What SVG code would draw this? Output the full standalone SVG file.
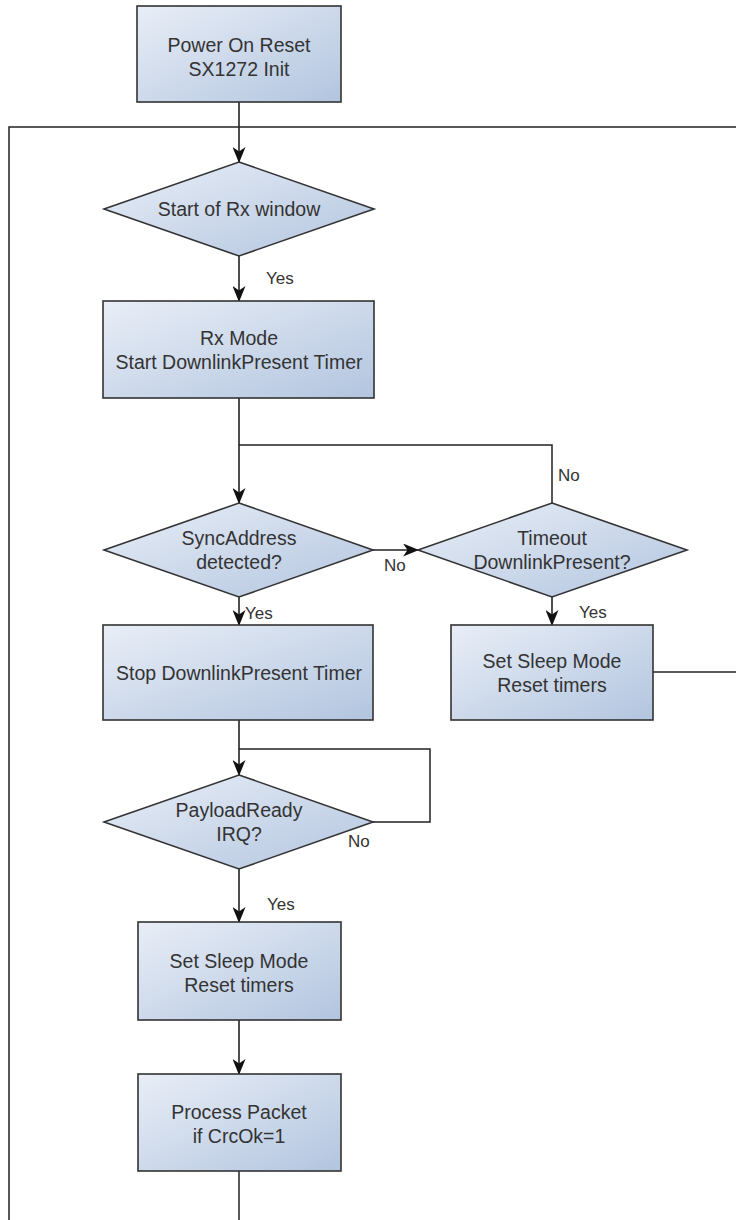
<svg xmlns="http://www.w3.org/2000/svg" width="736" height="1220" viewBox="0 0 736 1220">
<defs>
<linearGradient id="g" x1="0" y1="0" x2="1" y2="1">
<stop offset="0" stop-color="#e9eef7"/>
<stop offset="1" stop-color="#b2c5df"/>
</linearGradient>
<marker id="arr" viewBox="0 0 16 13" refX="15" refY="6.5" markerWidth="16" markerHeight="13" markerUnits="userSpaceOnUse" orient="auto">
<path d="M0,0 L16,6.5 L0,13 L4.5,6.5 z" fill="#111"/>
</marker>
<style>
.n{fill:url(#g);stroke:#333;stroke-width:1.6}
.t{font-family:"Liberation Sans",Arial,sans-serif;font-size:19.5px;fill:#333;text-anchor:middle}
.l{font-family:"Liberation Sans",Arial,sans-serif;font-size:17px;fill:#333}
.c{fill:none;stroke:#222;stroke-width:1.5}
.a{fill:none;stroke:#222;stroke-width:1.6;marker-end:url(#arr)}
</style>
</defs>
<rect width="736" height="1220" fill="#fff"/>
<g id="connectors">
<path class="c" d="M9,1220 V127 H736" stroke-width="1.3"/>
<path class="a" d="M239,102 V162"/>
<path class="a" d="M239,256 V301"/>
<path class="a" d="M239,398 V503"/>
<path class="c" d="M552,503 V445 H239"/>
<path class="a" d="M373,550 H418"/>
<path class="a" d="M239,597 V625"/>
<path class="a" d="M552,597 V625"/>
<path class="c" d="M653,672 H736" stroke="#555" stroke-width="1.2"/>
<path class="a" d="M239,720 V775"/>
<path class="c" d="M373,822 H430 V749 H239"/>
<path class="a" d="M239,869 V922"/>
<path class="a" d="M239,1020 V1074"/>
<path class="c" d="M239,1171 V1220"/>
<text class="l" x="266" y="284">Yes</text>
<text class="l" x="558" y="481">No</text>
<text class="l" x="384" y="571">No</text>
<text class="l" x="245" y="619">Yes</text>
<text class="l" x="579" y="618">Yes</text>
<text class="l" x="348" y="847">No</text>
<text class="l" x="267" y="910">Yes</text>
</g>
<g id="n_power">
<rect class="n" x="137" y="6" width="204" height="96"/>
<text class="t" x="239" y="51.5">Power On Reset</text>
<text class="t" x="239" y="76">SX1272 Init</text>
</g>
<g id="n_start">
<polygon class="n" points="239,162 374,209 239,256 104,209"/>
<text class="t" x="239" y="216">Start of Rx window</text>
</g>
<g id="n_rx">
<rect class="n" x="103" y="301" width="271" height="97"/>
<text class="t" x="239" y="344.5">Rx Mode</text>
<text class="t" x="239" y="369">Start DownlinkPresent Timer</text>
</g>
<g id="n_sync">
<polygon class="n" points="239,503 373,550 239,597 104,550"/>
<text class="t" x="239" y="545">SyncAddress</text>
<text class="t" x="239" y="569">detected?</text>
</g>
<g id="n_timeout">
<polygon class="n" points="552,503 687,550 552,597 418,550"/>
<text class="t" x="552" y="545">Timeout</text>
<text class="t" x="552" y="569">DownlinkPresent?</text>
</g>
<g id="n_stop">
<rect class="n" x="103" y="625" width="270" height="95"/>
<text class="t" x="239" y="679.5">Stop DownlinkPresent Timer</text>
</g>
<g id="n_sleep1">
<rect class="n" x="451" y="625" width="202" height="95"/>
<text class="t" x="552" y="668">Set Sleep Mode</text>
<text class="t" x="552" y="692">Reset timers</text>
</g>
<g id="n_payload">
<polygon class="n" points="239,775 373,822 239,869 104,822"/>
<text class="t" x="239" y="817">PayloadReady</text>
<text class="t" x="239" y="841">IRQ?</text>
</g>
<g id="n_sleep2">
<rect class="n" x="138" y="922" width="203" height="98"/>
<text class="t" x="239" y="967.5">Set Sleep Mode</text>
<text class="t" x="239" y="992">Reset timers</text>
</g>
<g id="n_process">
<rect class="n" x="138" y="1074" width="203" height="97"/>
<text class="t" x="239" y="1118.5">Process Packet</text>
<text class="t" x="239" y="1142.5">if CrcOk=1</text>
</g>
</svg>
